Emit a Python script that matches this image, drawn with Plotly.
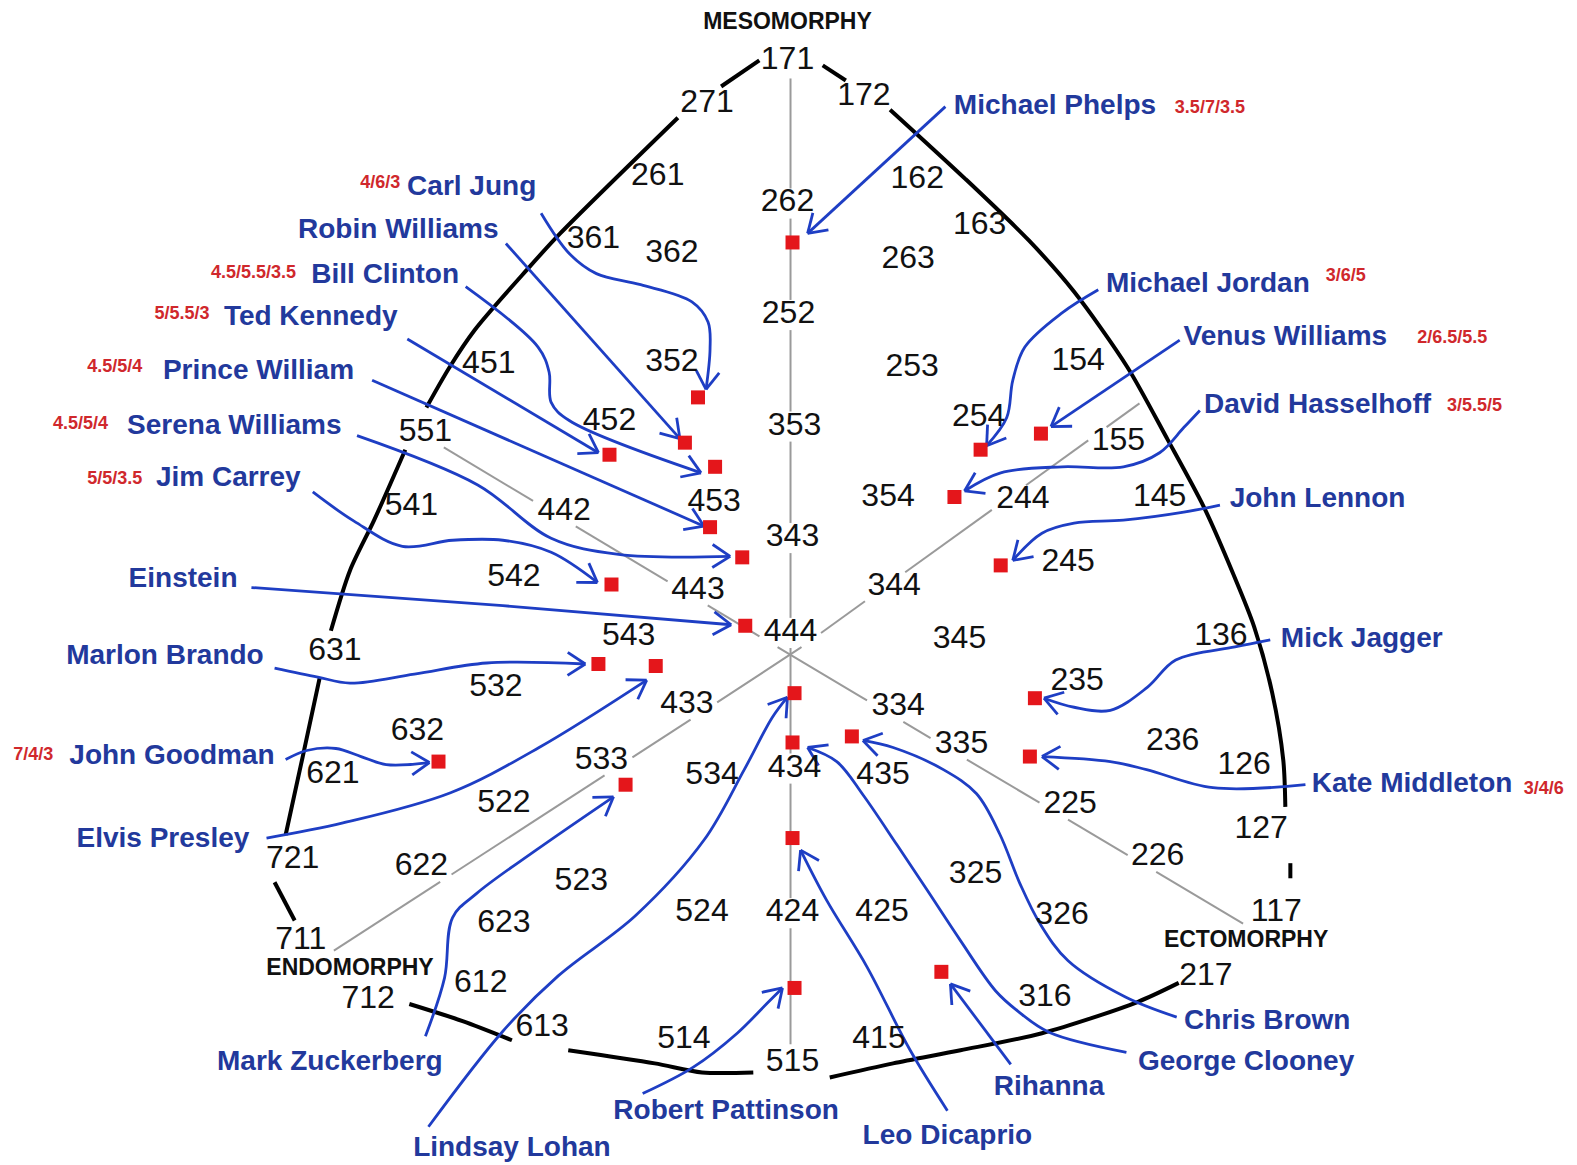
import math
import plotly.graph_objects as go

# ---------------- data (reference picture units: x 0..1568, y 0..1158 downwards) ----------------
codes = ["171", "271", "172", "261", "162", "262", "361", "362", "163", "263",
         "252", "451", "352", "253", "154", "551", "452", "353", "254", "155",
         "541", "442", "453", "354", "244", "145", "343", "542", "443", "344",
         "245", "444", "543", "345", "631", "136", "532", "433", "334", "235",
         "632", "533", "534", "434", "435", "335", "236", "621", "522", "225",
         "126", "127", "721", "622", "523", "325", "226", "623", "524", "424",
         "425", "326", "117", "711", "612", "712", "316", "217", "613", "514",
         "415", "515"]
code_x = [783, 703, 859, 654, 912, 783, 590, 668, 974, 903,
          784, 486, 668, 907, 1072, 423, 606, 790, 973, 1112,
          409, 561, 710, 883, 1017, 1153, 788, 511, 694, 889,
          1062, 786, 625, 954, 333, 1214, 493, 683, 893, 1071,
          415, 598, 708, 790, 878, 956, 1166, 331, 501, 1064,
          1237, 1254, 291, 419, 578, 970, 1151, 501, 698, 788,
          877, 1056, 1269, 299, 478, 366, 1039, 1199, 539, 680,
          874, 788]
code_y = [61, 103, 96, 176, 179, 202, 239, 252, 225, 258,
          313, 363, 361, 366, 360, 430, 419, 424, 415, 439,
          504, 509, 500, 495, 497, 495, 535, 575, 587, 583,
          560, 629, 633, 636, 648, 633, 684, 701, 703, 678,
          728, 756, 771, 764, 771, 741, 738, 770, 799, 800,
          761, 825, 855, 862, 877, 870, 852, 918, 908, 908,
          908, 910, 908, 935, 978, 994, 992, 971, 1022, 1034,
          1034, 1057]

axis_titles = ["MESOMORPHY", "ENDOMORPHY", "ECTOMORPHY"]
axis_title_x = [783, 348, 1239]
axis_title_y = [23, 963, 936]

people = ["Michael Phelps", "Carl Jung", "Robin Williams", "Bill Clinton", "Ted Kennedy",
          "Prince William", "Serena Williams", "Jim Carrey", "Einstein", "Marlon Brando",
          "John Goodman", "Elvis Presley", "Mark Zuckerberg", "Lindsay Lohan", "Robert Pattinson",
          "Leo Dicaprio", "Rihanna", "George Clooney", "Chris Brown", "Kate Middleton",
          "Mick Jagger", "John Lennon", "David Hasselhoff", "Venus Williams", "Michael Jordan"]
name_x = [1049, 469, 396, 383, 309, 257, 233, 227, 182, 164,
          171, 162, 328, 509, 722, 942, 1043, 1239, 1260, 1404,
          1354, 1310, 1310, 1278, 1201]
name_y = [106, 187, 230, 274, 316, 370, 424, 476, 577, 653,
          752, 835, 1057, 1142, 1105, 1130, 1081, 1057, 1016, 780,
          636, 497, 404, 336, 283]
ratings = ["3.5/7/3.5", "4/6/3", "", "4.5/5.5/3.5", "5/5.5/3",
           "4.5/5/4", "4.5/5/4", "5/5/3.5", "", "",
           "7/4/3", "", "", "", "",
           "", "", "", "", "3/4/6",
           "", "", "3/5.5/5", "2/6.5/5.5", "3/6/5"]
rating_x = [1203, 378, None, 252, 181, 114, 80, 114, None, None,
            33, None, None, None, None, None, None, None, None, 1535,
            None, None, 1466, 1444, 1338]
rating_y = [108, 182, None, 272, 313, 365, 422, 477, None, None,
            751, None, None, None, None, None, None, None, None, 785,
            None, None, 404, 336, 275]
point_x = [788, 694, 681, 711, 606, 706, 738, 608, 741, 595,
           436, 652, 622, 790, 790, 788, 936, 788, 847, 1024,
           1029, 995, 949, 1035, 975]
point_y = [241, 395, 440, 464, 452, 524, 554, 581, 622, 660,
           757, 662, 780, 689, 982, 833, 966, 738, 732, 752,
           694, 562, 494, 431, 447]

arrow_paths = {
    "Michael Phelps": [(940, 106), (803, 232)],
    "Carl Jung": [(538, 212), (566, 252), (593, 272), (637, 283), (688, 300), (704, 320), (706, 347), (702, 387)],
    "Robin Williams": [(503, 242), (676, 436)],
    "Bill Clinton": [(463, 285), (535, 345), (546, 370), (548, 400), (566, 418), (697, 470)],
    "Ted Kennedy": [(405, 337), (595, 450)],
    "Prince William": [(370, 378), (700, 523)],
    "Serena Williams": [(355, 433), (475, 482), (548, 535), (615, 551), (726, 553)],
    "Jim Carrey": [(311, 489), (352, 518), (400, 543), (450, 537), (500, 537), (548, 549), (594, 579)],
    "Einstein": [(250, 584), (500, 602), (727, 621)],
    "Marlon Brando": [(273, 664), (316, 673), (348, 679), (412, 670), (484, 659), (582, 660)],
    "John Goodman": [(284, 755), (305, 746), (334, 744), (359, 752), (384, 760), (427, 758)],
    "Elvis Presley": [(265, 833), (341, 818), (448, 788), (536, 743), (643, 676)],
    "Mark Zuckerberg": [(423, 1030), (442, 972), (450, 912), (474, 888), (533, 845), (610, 792)],
    "Lindsay Lohan": [(426, 1120), (500, 1025), (555, 970), (632, 910), (700, 835), (740, 765), (768, 713), (783, 693)],
    "Robert Pattinson": [(639, 1087), (689, 1061), (733, 1027), (763, 997), (778, 982)],
    "Leo Dicaprio": [(942, 1104), (905, 1044), (862, 961), (822, 895), (796, 845)],
    "Rihanna": [(1005, 1058), (945, 978)],
    "George Clooney": [(1120, 1046), (1043, 1026), (1012, 1005), (990, 985), (955, 935), (922, 885), (892, 840), (858, 790), (832, 757), (803, 743)],
    "Chris Brown": [(1170, 1011), (1119, 991), (1062, 955), (1034, 918), (1014, 878), (994, 829), (971, 789), (938, 765), (888, 743), (858, 736)],
    "Kate Middleton": [(1298, 780), (1206, 783), (1140, 765), (1104, 757), (1036, 752)],
    "Mick Jagger": [(1263, 636), (1228, 643), (1169, 656), (1141, 683), (1104, 706), (1068, 703), (1038, 694)],
    "John Lennon": [(1213, 502), (1177, 509), (1117, 517), (1068, 520), (1036, 530), (1007, 557)],
    "David Hasselhoff": [(1193, 408), (1177, 425), (1153, 450), (1117, 464), (1056, 464), (995, 470), (959, 488)],
    "Venus Williams": [(1173, 338), (1045, 424)],
    "Michael Jordan": [(1092, 288), (1056, 311), (1019, 345), (1007, 378), (1001, 415), (981, 443)],
}

gray_axes = [
    [(786, 78), (786, 1038)],
    [(440, 444), (786, 651), (1236, 918)],
    [(332, 945), (786, 651), (1133, 401)],
]

outline_pieces = [
    [(717, 86), (755, 60)],
    [(818, 65), (841, 80)],
    [(674, 117), (557, 232), (524, 268), (472, 328), (447, 365), (424, 405)],
    [(403, 447), (372, 517), (348, 567), (329, 627)],
    [(318, 673), (301, 752), (284, 830)],
    [(273, 877), (293, 915)],
    [(407, 998), (460, 1015), (509, 1034)],
    [(565, 1044), (651, 1057), (698, 1066), (749, 1066)],
    [(825, 1071), (888, 1057), (955, 1044), (1036, 1027), (1131, 996), (1172, 977)],
    [(885, 109), (960, 178), (1023, 239), (1068, 290), (1121, 365), (1161, 437), (1197, 504),
     (1226, 570), (1247, 623), (1265, 689), (1276, 756), (1278, 802)],
    [(1283, 858), (1283, 873)],
]

# ---------------- styling ----------------
FONT = "Liberation Sans, Arial, sans-serif"
ARROW_BLUE = "#1e3ec4"
NAME_BLUE = "#22399c"
RED = "#e4161b"
RATING_RED = "#d0282c"

fig = go.Figure()

# label boxes used to break the gray axes around the code numbers
CODE_SIZE = 32
boxes = []
for c, x, y in zip(codes, code_x, code_y):
    hw = len(c) * 0.556 * CODE_SIZE / 2 + 3
    boxes.append((x - hw, x + hw, y - 14, y + 14))


def inside(px, py):
    for x0, x1, y0, y1 in boxes:
        if x0 <= px <= x1 and y0 <= py <= y1:
            return True
    return False


gx, gy = [], []
for line in gray_axes:
    for (xa, ya), (xb, yb) in zip(line[:-1], line[1:]):
        n = int(math.hypot(xb - xa, yb - ya) / 1.5) + 1
        for i in range(n + 1):
            t = i / n
            px, py = xa + (xb - xa) * t, ya + (yb - ya) * t
            if inside(px, py):
                if gx and gx[-1] is not None:
                    gx.append(None)
                    gy.append(None)
            else:
                gx.append(px)
                gy.append(py)
    gx.append(None)
    gy.append(None)

fig.add_trace(go.Scatter(x=gx, y=gy, mode="lines", line=dict(color="#9a9a9a", width=2),
                         hoverinfo="skip", connectgaps=False))

# outline of the somatochart
for piece in outline_pieces:
    fig.add_trace(go.Scatter(x=[p[0] for p in piece], y=[p[1] for p in piece], mode="lines",
                             line=dict(color="black", width=4, shape="spline", smoothing=0.8),
                             hoverinfo="skip"))

# arrows
hx, hy = [], []
HEAD_LEN, HEAD_ANG = 21, math.radians(33)
for name in people:
    path = arrow_paths[name]
    fig.add_trace(go.Scatter(x=[p[0] for p in path], y=[p[1] for p in path], mode="lines",
                             line=dict(color=ARROW_BLUE, width=2.8, shape="spline", smoothing=1.0),
                             hoverinfo="skip"))
    (xa, ya), (xb, yb) = path[-2], path[-1]
    d = math.hypot(xb - xa, yb - ya)
    ux, uy = (xb - xa) / d, (yb - ya) / d
    for s in (1, -1):
        ca, sa = math.cos(s * HEAD_ANG), math.sin(s * HEAD_ANG)
        rx, ry = ux * ca - uy * sa, ux * sa + uy * ca
        hx += [xb - HEAD_LEN * rx, xb, None]
        hy += [yb - HEAD_LEN * ry, yb, None]
fig.add_trace(go.Scatter(x=hx, y=hy, mode="lines", line=dict(color=ARROW_BLUE, width=2.8),
                         hoverinfo="skip", connectgaps=False))

# people markers
fig.add_trace(go.Scatter(x=point_x, y=point_y, mode="markers",
                         marker=dict(symbol="square", size=14, color=RED, line=dict(width=0)),
                         hoverinfo="skip"))

# code numbers
fig.add_trace(go.Scatter(x=code_x, y=code_y, mode="text", text=codes, textposition="middle center",
                         textfont=dict(family=FONT, size=CODE_SIZE, color="#111111"),
                         hoverinfo="skip", cliponaxis=False))

# axis titles
fig.add_trace(go.Scatter(x=axis_title_x, y=axis_title_y, mode="text", text=axis_titles,
                         textposition="middle center",
                         textfont=dict(family=FONT, size=23, color="#111111", weight="bold"),
                         hoverinfo="skip", cliponaxis=False))

# names
fig.add_trace(go.Scatter(x=name_x, y=name_y, mode="text", text=people, textposition="middle center",
                         textfont=dict(family=FONT, size=28, color=NAME_BLUE, weight="bold"),
                         hoverinfo="skip", cliponaxis=False))

# ratings
rx = [x for x, r in zip(rating_x, ratings) if r]
ry = [y for y, r in zip(rating_y, ratings) if r]
rt = [r for r in ratings if r]
fig.add_trace(go.Scatter(x=rx, y=ry, mode="text", text=rt, textposition="middle center",
                         textfont=dict(family=FONT, size=18, color=RATING_RED, weight="bold"),
                         hoverinfo="skip", cliponaxis=False))

fig.update_layout(
    width=1577, height=1165,
    margin=dict(l=0, r=0, t=0, b=0),
    paper_bgcolor="white", plot_bgcolor="white",
    showlegend=False,
    xaxis=dict(range=[0, 1568], visible=False, fixedrange=True),
    yaxis=dict(range=[1158, 0], visible=False, fixedrange=True),
)

fig.write_html("out.html", config={"displayModeBar": False},
               post_script="document.body.style.margin='0';document.body.style.overflow='hidden';")
